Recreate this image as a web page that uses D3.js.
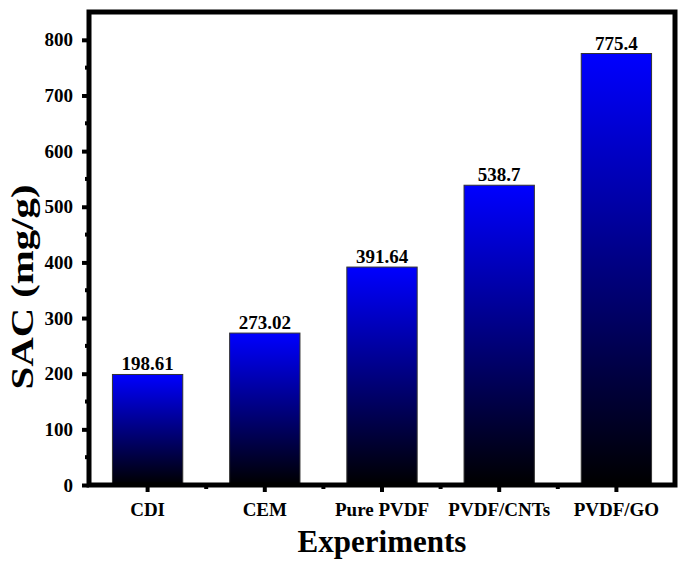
<!DOCTYPE html>
<html><head><meta charset="utf-8">
<script src="https://cdn.jsdelivr.net/npm/d3@7"></script>
<style>body{margin:0;background:#fff}</style>
</head><body>
<script>
const categories = ["CDI", "CEM", "Pure PVDF", "PVDF/CNTs", "PVDF/GO"];
const values = [198.61, 273.02, 391.64, 538.7, 775.4];
const valueLabels = ["198.61", "273.02", "391.64", "538.7", "775.4"];
const yTicks = [0, 100, 200, 300, 400, 500, 600, 700, 800];

const W = 692, H = 566;
const L = 89, R = 675, T = 12, B = 485;
const svg = d3.select("body").append("svg").attr("width", W).attr("height", H)
  .style("font-family", "'Liberation Serif','Times New Roman',serif");

const defs = svg.append("defs");
const g = defs.append("linearGradient").attr("id", "grad").attr("x1", 0).attr("y1", 0).attr("x2", 0).attr("y2", 1);
g.append("stop").attr("offset", "0%").attr("stop-color", "#0000ff");
g.append("stop").attr("offset", "100%").attr("stop-color", "#000000");

const x = d3.scaleBand().domain(categories).range([L, R]).paddingInner(0.4).paddingOuter(0.2);
const y = d3.scaleLinear().domain([0, 850]).range([B, T]);

svg.selectAll("rect.bar").data(values).join("rect").attr("class", "bar")
  .attr("x", (d, i) => x(categories[i]))
  .attr("width", x.bandwidth())
  .attr("y", d => y(d))
  .attr("height", d => y(0) - y(d))
  .attr("fill", "url(#grad)")
  .attr("stroke", "#333").attr("stroke-width", 1);

svg.selectAll("text.val").data(values).join("text").attr("class", "val")
  .attr("x", (d, i) => x(categories[i]) + x.bandwidth() / 2)
  .attr("y", d => y(d) - 4)
  .attr("text-anchor", "middle").attr("font-weight", "bold").attr("font-size", 19)
  .text((d, i) => valueLabels[i]);

// frame
svg.append("rect").attr("x", L).attr("y", T).attr("width", R - L).attr("height", B - T)
  .attr("fill", "none").attr("stroke", "#000").attr("stroke-width", 5);

// y axis
const yAxis = svg.append("g").attr("transform", `translate(${L},0)`)
  .call(d3.axisLeft(y).tickValues(yTicks).tickSize(7).tickPadding(9));
yAxis.select(".domain").remove();
yAxis.selectAll("line").attr("stroke-width", 4);
yAxis.selectAll("text").attr("font-size", 19).attr("font-weight", "bold")
  .attr("font-family", "'Liberation Serif',serif").attr("fill", "#000");
const yMinor = d3.range(50, 850, 100);
svg.append("g").selectAll("line").data(yMinor).join("line")
  .attr("x1", L - 4).attr("x2", L).attr("y1", d => y(d)).attr("y2", d => y(d))
  .attr("stroke", "#000").attr("stroke-width", 4);

// x axis
const xAxis = svg.append("g").attr("transform", `translate(0,${B})`)
  .call(d3.axisBottom(x).tickSize(7).tickPadding(11));
xAxis.select(".domain").remove();
xAxis.selectAll("line").attr("stroke-width", 4);
xAxis.selectAll("text").attr("font-size", 19).attr("font-weight", "bold")
  .attr("font-family", "'Liberation Serif',serif").attr("fill", "#000");
const step = x.step();
const xMinor = categories.slice(0, -1).map(c => x(c) + x.bandwidth() / 2 + step / 2);
svg.append("g").selectAll("line").data(xMinor).join("line")
  .attr("x1", d => d).attr("x2", d => d).attr("y1", B).attr("y2", B + 4)
  .attr("stroke", "#000").attr("stroke-width", 4);

// titles
svg.append("text").attr("x", (L + R) / 2).attr("y", 552).attr("text-anchor", "middle")
  .attr("font-size", 31).attr("font-weight", "bold").text("Experiments");
svg.append("text").attr("transform", `translate(33,287) rotate(-90)`)
  .attr("text-anchor", "middle").attr("font-size", 32).attr("font-weight", "bold")
  .attr("textLength", 205).attr("lengthAdjust", "spacingAndGlyphs").text("SAC (mg/g)");
</script>
</body></html>
